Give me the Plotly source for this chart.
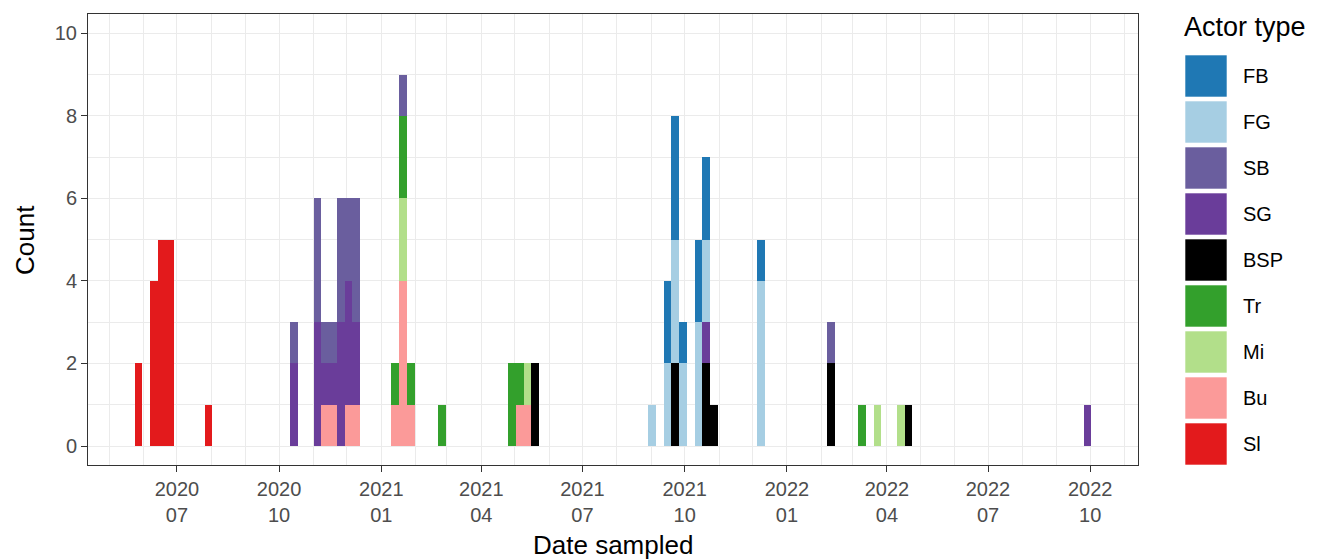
import plotly.graph_objects as go

# Weekly bins (week start dates) that contain samples
week_start = [
    "2020-05-24", "2020-06-07", "2020-06-14", "2020-06-21", "2020-07-26",
    "2020-10-11", "2020-11-01", "2020-11-08", "2020-11-15", "2020-11-22",
    "2020-11-29", "2020-12-06", "2021-01-10", "2021-01-17", "2021-01-24",
    "2021-02-21", "2021-04-25", "2021-05-02", "2021-05-09", "2021-05-16",
    "2021-08-29", "2021-09-12", "2021-09-19", "2021-09-26", "2021-10-10",
    "2021-10-17", "2021-10-24", "2021-12-05", "2022-02-06", "2022-03-06",
    "2022-03-20", "2022-04-10", "2022-04-17", "2022-09-25",
]

# Counts per actor type, aligned with week_start
count_Sl  = [2, 4, 5, 5, 1, 0, 0, 0, 0, 0, 0, 0, 0, 0, 0, 0, 0, 0, 0, 0, 0, 0, 0, 0, 0, 0, 0, 0, 0, 0, 0, 0, 0, 0]
count_Bu  = [0, 0, 0, 0, 0, 0, 0, 1, 1, 0, 1, 1, 1, 4, 1, 0, 0, 1, 1, 0, 0, 0, 0, 0, 0, 0, 0, 0, 0, 0, 0, 0, 0, 0]
count_Mi  = [0, 0, 0, 0, 0, 0, 0, 0, 0, 0, 0, 0, 0, 2, 0, 0, 0, 0, 1, 0, 0, 0, 0, 0, 0, 0, 0, 0, 0, 0, 1, 1, 0, 0]
count_Tr  = [0, 0, 0, 0, 0, 0, 0, 0, 0, 0, 0, 0, 1, 2, 1, 1, 2, 1, 0, 0, 0, 0, 0, 0, 0, 0, 0, 0, 0, 1, 0, 0, 0, 0]
count_BSP = [0, 0, 0, 0, 0, 0, 0, 0, 0, 0, 0, 0, 0, 0, 0, 0, 0, 0, 0, 2, 0, 0, 2, 0, 0, 2, 1, 0, 2, 0, 0, 0, 1, 0]
count_SG  = [0, 0, 0, 0, 0, 2, 3, 1, 1, 3, 3, 2, 0, 0, 0, 0, 0, 0, 0, 0, 0, 0, 0, 0, 0, 1, 0, 0, 0, 0, 0, 0, 0, 1]
count_SB  = [0, 0, 0, 0, 0, 1, 3, 1, 1, 3, 2, 3, 0, 1, 0, 0, 0, 0, 0, 0, 0, 0, 0, 0, 0, 0, 0, 0, 1, 0, 0, 0, 0, 0]
count_FG  = [0, 0, 0, 0, 0, 0, 0, 0, 0, 0, 0, 0, 0, 0, 0, 0, 0, 0, 0, 0, 1, 2, 3, 2, 3, 2, 0, 4, 0, 0, 0, 0, 0, 0]
count_FB  = [0, 0, 0, 0, 0, 0, 0, 0, 0, 0, 0, 0, 0, 0, 0, 0, 0, 0, 0, 0, 0, 2, 3, 1, 2, 2, 0, 1, 0, 0, 0, 0, 0, 0]

# Legend order (top to bottom); stacking is the reverse (Sl at the bottom)
actor_types = ["FB", "FG", "SB", "SG", "BSP", "Tr", "Mi", "Bu", "Sl"]
actor_counts = {
    "FB": count_FB, "FG": count_FG, "SB": count_SB, "SG": count_SG, "BSP": count_BSP,
    "Tr": count_Tr, "Mi": count_Mi, "Bu": count_Bu, "Sl": count_Sl,
}
actor_colors = {
    "FB": "#1F78B4", "FG": "#A6CEE3", "SB": "#6A5E9E", "SG": "#6A3D9A", "BSP": "#000000",
    "Tr": "#33A02C", "Mi": "#B2DF8A", "Bu": "#FB9A99", "Sl": "#E31A1C",
}

tick_dates = ["2020-07-01", "2020-10-01", "2021-01-01", "2021-04-01", "2021-07-01",
              "2021-10-01", "2022-01-01", "2022-04-01", "2022-07-01", "2022-10-01"]
tick_labels = ["2020<br>07", "2020<br>10", "2021<br>01", "2021<br>04", "2021<br>07",
               "2021<br>10", "2022<br>01", "2022<br>04", "2022<br>07", "2022<br>10"]

WEEK_MS = 7 * 24 * 3600 * 1000
FONT = "Liberation Sans, Arial, sans-serif"

fig = go.Figure()
for name in reversed(actor_types):
    vals = actor_counts[name]
    xs = [d for d, v in zip(week_start, vals) if v > 0]
    ys = [v for v in vals if v > 0]
    fig.add_trace(go.Bar(
        x=xs, y=ys, name=name,
        width=[WEEK_MS] * len(xs), offset=0,
        marker=dict(color=actor_colors[name], line=dict(width=0)),
        showlegend=False,
    ))

# Plot area in pixels
W, H = 1317, 560
L, R, T, B = 88, 1138, 14, 465


def px_x(p):
    return (p - L) / (R - L)


def px_y(p):
    return (B - p) / (B - T)


shapes = []
annotations = []
# Axis titles
annotations.append(dict(
    text="Date sampled", x=px_x(613), y=px_y(545), xref="paper", yref="paper",
    xanchor="center", yanchor="middle", showarrow=False,
    font=dict(family=FONT, size=26, color="#000000"),
))
annotations.append(dict(
    text="Count", x=px_x(25), y=px_y(240), xref="paper", yref="paper",
    xanchor="center", yanchor="middle", showarrow=False, textangle=-90,
    font=dict(family=FONT, size=26, color="#000000"),
))
# Manual legend with large square keys (ggplot-style)
annotations.append(dict(
    text="Actor type", x=px_x(1182), y=px_y(27), xref="paper", yref="paper",
    xanchor="left", yanchor="middle", showarrow=False,
    font=dict(family=FONT, size=27, color="#000000"),
))
for i, name in enumerate(actor_types):
    top = 55 + 46 * i
    shapes.append(dict(
        type="rect", xref="paper", yref="paper",
        x0=px_x(1185), x1=px_x(1227), y0=px_y(top + 42), y1=px_y(top),
        fillcolor=actor_colors[name], line=dict(width=0.6, color="#FFFFFF"),
    ))
    annotations.append(dict(
        text=name, x=px_x(1241), y=px_y(top + 21), xref="paper", yref="paper",
        xanchor="left", yanchor="middle", showarrow=False,
        font=dict(family=FONT, size=20, color="#000000"),
    ))

fig.update_layout(
    width=W, height=H,
    margin=dict(l=L, r=W - R, t=T, b=H - B, autoexpand=False),
    paper_bgcolor="#FFFFFF", plot_bgcolor="#FFFFFF",
    barmode="stack", bargap=0,
    showlegend=False,
    font=dict(family=FONT, color="#4D4D4D"),
    shapes=shapes, annotations=annotations,
)
fig.update_xaxes(
    type="date", range=["2020-04-12", "2022-11-13"], automargin=False,
    tickmode="array", tickvals=tick_dates, ticktext=tick_labels,
    ticks="outside", ticklen=6, tickwidth=1, tickcolor="#333333",
    tickfont=dict(family=FONT, size=20, color="#4D4D4D"),
    showgrid=True, gridcolor="#EBEBEB", gridwidth=1.1,
    minor=dict(dtick="M1", tick0="2020-01-01", showgrid=True, gridcolor="#EBEBEB", gridwidth=0.6),
    showline=True, mirror=True, linecolor="#333333", linewidth=1,
    zeroline=False,
)
fig.update_yaxes(
    range=[-0.46, 10.47], tickmode="linear", tick0=0, dtick=2, automargin=False,
    ticks="outside", ticklen=6, tickwidth=1, tickcolor="#333333",
    tickfont=dict(family=FONT, size=20, color="#4D4D4D"),
    showgrid=True, gridcolor="#EBEBEB", gridwidth=1.1,
    minor=dict(dtick=1, tick0=0, showgrid=True, gridcolor="#EBEBEB", gridwidth=0.6),
    showline=True, mirror=True, linecolor="#333333", linewidth=1,
    zeroline=False,
)

fig.write_html(
    "out.html",
    config={"displayModeBar": False},
    post_script="document.body.style.margin='0';document.body.style.overflow='hidden';",
)
